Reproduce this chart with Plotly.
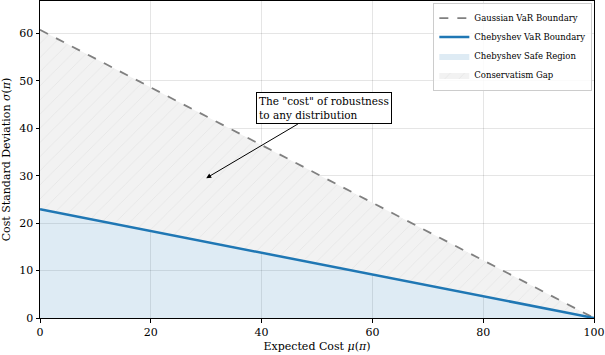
import plotly.graph_objects as go

# Data
mu = [0, 100]
gauss_sigma = [60.79, 0]
cheb_sigma = [22.94, 0]
x_ticks = [0, 20, 40, 60, 80, 100]
y_ticks = [0, 10, 20, 30, 40, 50, 60]

FONT = "DejaVu Serif"

fig = go.Figure()

fig.add_trace(go.Scatter(
    x=mu, y=cheb_sigma, mode="lines", line=dict(width=0),
    fill="tozeroy", fillcolor="rgba(31,119,180,0.15)",
    name="Chebyshev Safe Region", legendrank=3, hoverinfo="skip"))

fig.add_trace(go.Scatter(
    x=mu, y=gauss_sigma, mode="lines", line=dict(width=0),
    fill="tonexty", fillcolor="#f2f2f2",
    fillpattern=dict(shape="/", bgcolor="#f2f2f2", fgcolor="#d9d9d9",
                     size=10, solidity=0.08),
    name="Conservatism Gap", legendrank=4, hoverinfo="skip"))

fig.add_trace(go.Scatter(
    x=mu, y=gauss_sigma, mode="lines",
    line=dict(color="gray", width=1.8, dash="dash"),
    name="Gaussian VaR Boundary", legendrank=1))

fig.add_trace(go.Scatter(
    x=mu, y=cheb_sigma, mode="lines",
    line=dict(color="#1f77b4", width=2.5),
    name="Chebyshev VaR Boundary", legendrank=2))

fig.add_annotation(
    x=30, y=29.5, xref="x", yref="y",
    ax=51.3, ay=44.2, axref="x", ayref="y",
    text='The "cost" of robustness<br>to any distribution',
    showarrow=True, arrowhead=2, arrowsize=1, arrowwidth=1, arrowcolor="black",
    align="left", bgcolor="white", bordercolor="black", borderwidth=1, borderpad=2,
    font=dict(family=FONT, size=10.5, color="black"))

axis_common = dict(
    showline=True, linecolor="black", linewidth=1, mirror=True,
    ticks="outside", ticklen=3.5, tickcolor="black",
    showgrid=True, gridcolor="rgba(0,0,0,0.1)", gridwidth=1,
    zeroline=False, tickfont=dict(family=FONT, size=11, color="black"),
    automargin=False, ticklabeloverflow="allow",
)

fig.update_xaxes(range=[0, 100], tickvals=x_ticks,
                 title=dict(text="Expected Cost <i>μ</i>(<i>π</i>)", standoff=4,
                            font=dict(family=FONT, size=11, color="black")),
                 **axis_common)
fig.update_yaxes(range=[0, 66.87], tickvals=y_ticks,
                 title=dict(text="Cost Standard Deviation <i>σ</i>(<i>π</i>)", standoff=6,
                            font=dict(family=FONT, size=11, color="black")),
                 **axis_common)

fig.update_layout(
    width=605, height=355,
    margin=dict(l=40, r=11, t=1, b=37),
    plot_bgcolor="white", paper_bgcolor="white",
    font=dict(family=FONT, size=9, color="black"),
    legend=dict(x=0.997, y=0.995, xanchor="right", yanchor="top",
                bgcolor="rgba(255,255,255,0.85)", bordercolor="#cccccc", borderwidth=1,
                font=dict(family=FONT, size=8.5), tracegroupgap=0,
                traceorder="normal", itemwidth=30),
    showlegend=True,
)

fig.write_html("out.html", config={"displayModeBar": False},
               post_script="document.body.style.margin='0';document.body.style.overflow='hidden';")
